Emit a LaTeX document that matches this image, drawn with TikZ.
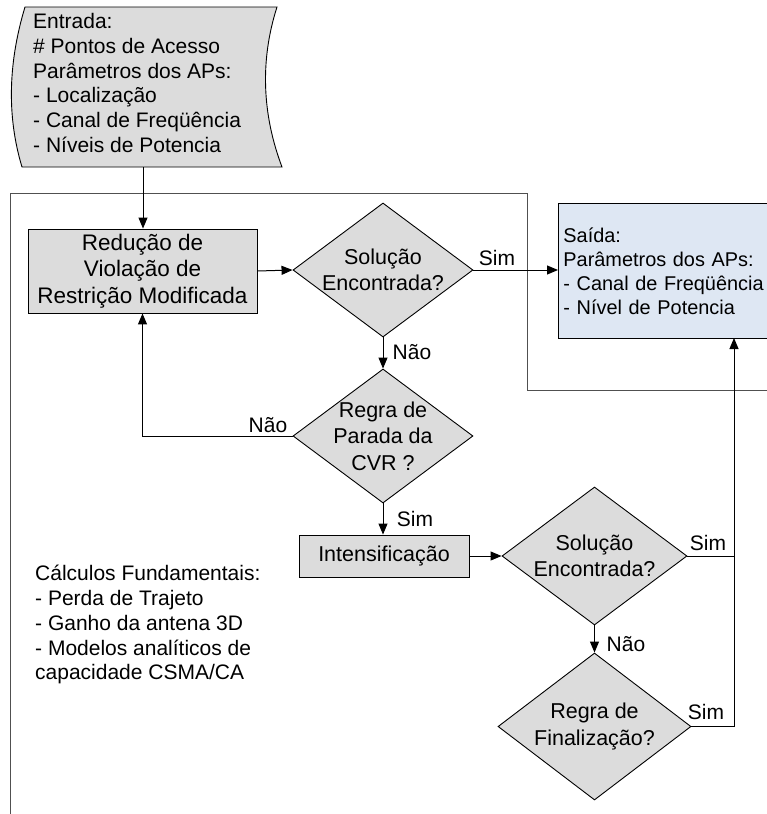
\documentclass[tikz,border=0pt]{standalone}
\usepackage{fontspec}
\setmainfont{Liberation Sans}
\usetikzlibrary{shapes.geometric,arrows.meta}
\definecolor{boxgray}{RGB}{220,220,220}
\definecolor{outblue}{RGB}{222,231,243}
\definecolor{framegray}{RGB}{80,80,80}
\begin{document}
\begin{tikzpicture}[x=1pt,y=-1pt,
  every node/.style={font=\fontsize{21}{24.8}\selectfont},
  procbox/.style={draw=black, fill=boxgray, line width=0.9pt, align=center, inner sep=0pt},
  dia/.style={draw=black, fill=boxgray, diamond, inner sep=0pt, line width=0.9pt},
  ctext/.style={align=center, inner sep=0pt, font=\fontsize{21.5}{26.5}\selectfont},
  conn/.style={line width=1pt, -{Triangle[length=11pt,width=9pt]}},
  plainline/.style={line width=1pt},
  lbl/.style={inner sep=0pt}
]
\useasboundingbox (0,0) rectangle (767,814);
\clip (0,0) rectangle (767,814);

% frame
\draw[framegray, line width=1pt] (10,814) -- (10,193) -- (527,193) -- (527,390) -- (767,390);

% input shape
\path[draw=black, fill=boxgray, line width=0.9pt] (25,7) -- (277,7)
  .. controls (260,60) and (262,114) .. (282,167) -- (22,167)
  .. controls (6,114) and (9,60) .. (25,7) -- cycle;
\node[anchor=north west, align=left, inner sep=0pt] (intext) at (33,13)
  {Entrada:\\\# Pontos de Acesso\\Parâmetros dos APs:\\- Localização\\- Canal de Freqüência\\- Níveis de Potencia};
\coordinate (inbot) at (143,167);

% output box
\node[draw=black, fill=outblue, line width=0.9pt, anchor=north west, minimum height=135pt,
      text width=260pt, inner xsep=5pt, inner ysep=0pt, align=left,
      font=\fontsize{19.9}{24}\selectfont] (out) at (558,203)
  {Saída:\\Parâmetros dos APs:\\- Canal de Freqüência\\- Nível de Potencia};

% process boxes
\node[procbox, minimum width=229pt, minimum height=84pt, font=\fontsize{22.5}{26.5}\selectfont] (b1) at (142.5,271)
  {Redução de\\Violação de\\Restrição Modificada};
\node[procbox, minimum width=170pt, minimum height=42pt, font=\fontsize{21.5}{25}\selectfont] (b2) at (384,556) {Intensificação};

% diamonds
\node[dia, minimum width=180pt, minimum height=134pt] (d1) at (383,270) {};
\node[ctext] (d1t) at (d1) {Solução\\Encontrada?};
\node[dia, minimum width=180pt, minimum height=134pt] (d2) at (383,436) {};
\node[ctext] (d2t) at (d2) {Regra de\\Parada da\\CVR ?};
\node[dia, minimum width=185pt, minimum height=138pt] (d3) at (594.5,556) {};
\node[ctext] (d3t) at (d3) {Solução\\Encontrada?};
\node[dia, minimum width=193pt, minimum height=147pt] (d4) at (594.5,726.5) {};
\node[ctext] (d4t) at (d4) {Regra de\\Finalização?};

% side note
\node[anchor=north west, align=left, inner sep=0pt] (calc) at (35,565)
  {Cálculos Fundamentais:\\- Perda de Trajeto\\- Ganho da antena 3D\\- Modelos analíticos de\\capacidade CSMA/CA};

% rail
\coordinate (railtop) at (734,338);
\coordinate (railmid) at (734,556);

% connectors
\draw[conn] (inbot) -- (inbot |- b1.north);
\draw[conn] (b1.east) -- (d1.west);
\draw[conn] (d1.east) -- (d1.east -| out.west);
\draw[conn] (d1.south) -- (d2.north);
\draw[conn] (d2.west) -| (b1.south);
\draw[conn] (d2.south) -- (d2.south |- b2.north);
\draw[conn] (b2.east) -- (d3.west);
\draw[conn] (d3.south) -- (d4.north);
\draw[plainline] (d3.east) -- (railmid);
\draw[conn] (d4.east) -| (railtop);

% labels
\node[lbl] (l1) at (497,258) {Sim};
\node[lbl] (l2) at (412,352) {Não};
\node[lbl] (l3) at (268,425) {Não};
\node[lbl] (l4) at (415,519) {Sim};
\node[lbl] (l5) at (708,543) {Sim};
\node[lbl] (l6) at (626,644) {Não};
\node[lbl] (l7) at (706,712) {Sim};
\end{tikzpicture}
\end{document}
